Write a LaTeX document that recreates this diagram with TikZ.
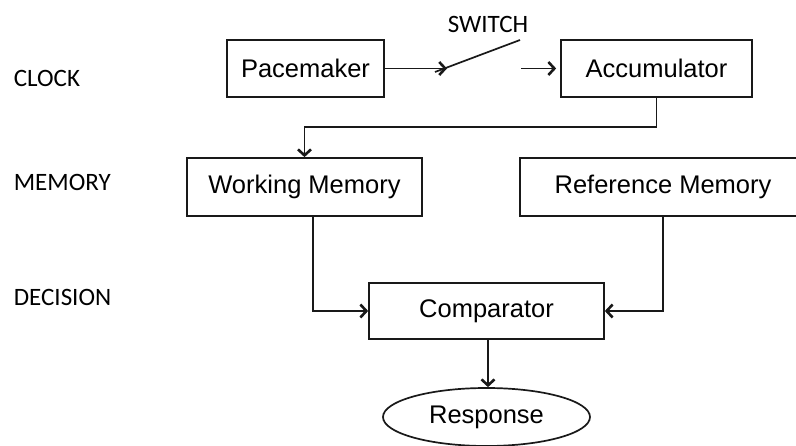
\documentclass[tikz,border=0pt]{standalone}
\usepackage{fontspec}
\setmainfont{Liberation Sans}
\newfontfamily\lblfont{Carlito}
\usetikzlibrary{arrows.meta, shapes.geometric, positioning}
\newcommand{\boxfont}{\fontsize{25.5}{30}\selectfont}
\newcommand{\levelfont}{\lblfont\fontsize{25}{30}\selectfont}

\begin{document}
\begin{tikzpicture}[x=1pt, y=-1pt, line width=1.7pt, draw=black!90,
	stage/.style={draw=black!90, rectangle, inner sep=0pt, font=\boxfont},
	level/.style={anchor=west, inner sep=0pt, font=\levelfont},
	arr/.style={-{Straight Barb[length=6pt, width=13pt, line width=2.6pt]}}]
	\useasboundingbox (0,0) rectangle (796,446);
	% stages
	\node[stage, minimum width=157pt, minimum height=57pt] (pace) at (305.5,68.5) {Pacemaker};
	\node[stage, minimum width=191pt, minimum height=57pt] (accu) at (656.5,68.5) {Accumulator};
	\node[stage, minimum width=235pt, minimum height=58pt] (work) at (304.5,187) {Working Memory};
	\node[stage, minimum width=286pt, minimum height=58pt] (refm) at (663,187) {Reference Memory};
	\node[stage, minimum width=235pt, minimum height=56pt] (comp) at (486.5,311) {Comparator};
	\node[stage, ellipse, minimum width=207pt, minimum height=58pt] (resp) at (486.5,417) {Response};
	% levels
	\node[level] (clock) at (13,78.5) {CLOCK};
	\node[level] (memory) at (13,182.5) {MEMORY};
	\node[level] (decision) at (13,297.5) {DECISION};
	\node[inner sep=0pt, font=\levelfont] (switch) at (488,24.5) {SWITCH};
	% switch
	\coordinate (swin) at (447,68.5);
	\coordinate (swa) at (435,72);
	\coordinate (swb) at (520,40);
	\coordinate (swout) at (521,68.5);
	\coordinate (fold) at (0,127);
	\draw[arr] (pace.east) -- (swin);
	\draw (swa) -- (swb);
	\draw[arr, shorten >=4pt] (swout) -- (accu.west);
	% connectors
	\draw[arr] (accu.south) -- (accu.south |- fold) -| (work.north);
	\draw[arr] ([xshift=8.5pt]work.south) |- (comp.west);
	\draw[arr] (refm.south) |- (comp.east);
	\draw[arr] ([xshift=1.5pt]comp.south) -- ([xshift=1.5pt]resp.north);
\end{tikzpicture}
\end{document}
